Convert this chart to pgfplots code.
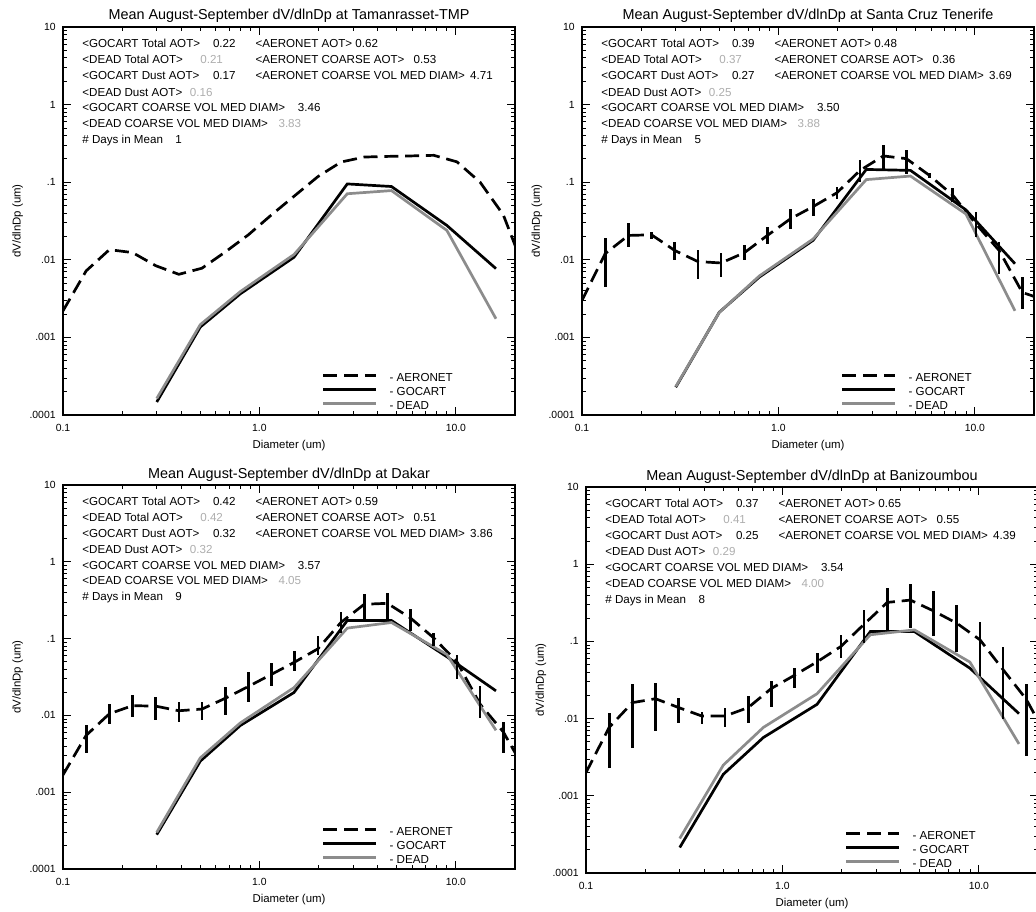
\documentclass[border=0pt]{standalone}
\usepackage{fontspec}
\setmainfont{Liberation Sans}
\usepackage{pgfplots}
\pgfplotsset{compat=1.18}
\usepackage{pgfplotstable}

\definecolor{deadgray}{gray}{0.55}
\definecolor{valgray}{gray}{0.68}

% AERONET retrieval bins (diameter, um): value, low, high
\pgfplotstableread{
d       v        lo       hi
0.1000  0.0022   0.0022   0.0022
0.1312  0.0072   0.0072   0.0072
0.1722  0.0135   0.0135   0.0135
0.2259  0.0124   0.0124   0.0124
0.2964  0.0084   0.0084   0.0084
0.3889  0.0065   0.0065   0.0065
0.5102  0.0078   0.0078   0.0078
0.6695  0.0126   0.0126   0.0126
0.8784  0.021    0.021    0.021
1.1525  0.038    0.038    0.038
1.5122  0.067    0.067    0.067
1.9842  0.118    0.118    0.118
2.6035  0.182    0.182    0.182
3.4161  0.211    0.211    0.211
4.4823  0.215    0.215    0.215
5.8812  0.218    0.218    0.218
7.7168  0.222    0.222    0.222
10.125  0.183    0.183    0.183
13.286  0.100    0.100    0.100
17.432  0.038    0.038    0.038
22.87   0.0064   0.0064   0.0064
}\aerTam

\pgfplotstableread{
d       v        lo       hi
0.1000  0.0030   0.00022  0.0049
0.1312  0.0120   0.0044   0.019
0.1722  0.0206   0.0146   0.030
0.2259  0.0210   0.0187   0.0228
0.2964  0.0132   0.0098   0.0172
0.3889  0.0095   0.0057   0.0132
0.5102  0.0091   0.0060   0.0124
0.6695  0.0123   0.0098   0.0153
0.8784  0.0206   0.0161   0.0264
1.1525  0.0338   0.0246   0.0455
1.5122  0.049    0.037    0.061
1.9842  0.073    0.061    0.087
2.6035  0.142    0.100    0.191
3.4161  0.218    0.138    0.300
4.4823  0.201    0.129    0.258
5.8812  0.122    0.112    0.132
7.7168  0.068    0.055    0.084
10.125  0.029    0.0196   0.041
13.286  0.0132   0.0066   0.0169
17.432  0.0038   0.0023   0.0060
22.87   0.0030   0.0030   0.0030
}\aerSCT

\pgfplotstableread{
d       v        lo       hi
0.1000  0.00168  0.00072  0.00214
0.1312  0.0055   0.0032   0.0074
0.1722  0.0105   0.0078   0.0141
0.2259  0.0134   0.0095   0.0184
0.2964  0.0132   0.0086   0.0175
0.3889  0.0115   0.0082   0.0148
0.5102  0.0121   0.0086   0.0150
0.6695  0.0167   0.0101   0.0231
0.8784  0.0238   0.0148   0.0368
1.1525  0.0343   0.0238   0.0486
1.5122  0.0495   0.038    0.0687
1.9842  0.0736   0.062    0.109
2.6035  0.163    0.118    0.219
3.4161  0.280    0.176    0.381
4.4823  0.288    0.176    0.390
5.8812  0.185    0.124    0.241
7.7168  0.102    0.080    0.118
10.125  0.050    0.0296   0.062
13.286  0.0140   0.0092   0.0243
17.432  0.0061   0.0032   0.0082
22.87   0.0018   0.0018   0.0018
}\aerDak

\pgfplotstableread{
d       v        lo       hi
0.1000  0.0020   0.00096  0.0023
0.1312  0.0077   0.0023   0.0119
0.1722  0.0161   0.0042   0.0277
0.2259  0.0181   0.0069   0.029
0.2964  0.0139   0.0089   0.0186
0.3889  0.0108   0.0086   0.0123
0.5102  0.0108   0.0077   0.0139
0.6695  0.0139   0.0089   0.0196
0.8784  0.0246   0.0141   0.0305
1.1525  0.0365   0.0251   0.0454
1.5122  0.055    0.039    0.071
1.9842  0.086    0.061    0.122
2.6035  0.167    0.095    0.256
3.4161  0.320    0.141    0.486
4.4823  0.343    0.149    0.547
5.8812  0.248    0.119    0.449
7.7168  0.172    0.074    0.296
10.125  0.105    0.0354   0.177
13.286  0.043    0.0098   0.084
17.432  0.0178   0.0033   0.0277
22.87   0.0050   0.0050   0.0050
}\aerBan

% model bins: GOCART and DEAD
\pgfplotstableread{
d     goc       dead
0.3   0.000147  0.000163
0.5   0.00136   0.00146
0.8   0.00365   0.0039
1.5   0.0108    0.0117
2.8   0.095     0.071
4.7   0.088     0.078
9.0   0.0277    0.0239
16    0.0077    0.00174
}\modTam

\pgfplotstableread{
d     goc       dead
0.3   0.000228  0.000232
0.5   0.00211   0.0021
0.8   0.0060    0.0062
1.5   0.0178    0.0185
2.8   0.146     0.108
4.7   0.142     0.120
9.0   0.044     0.039
16    0.0089    0.0022
}\modSCT

\pgfplotstableread{
d     goc       dead
0.3   0.00028   0.00030
0.5   0.00254   0.0028
0.8   0.0074    0.0080
1.5   0.0199    0.023
2.8   0.172     0.137
4.7   0.172     0.162
9.0   0.058     0.062
16    0.0209    0.0064
}\modDak

\pgfplotstableread{
d     goc       dead
0.3   0.000214  0.00028
0.5   0.0019    0.0025
0.8   0.0057    0.0077
1.5   0.0153    0.021
2.8   0.134     0.122
4.7   0.134     0.141
9.0   0.045     0.054
16    0.0116    0.0047
}\modBan

\pgfplotsset{every axis/.append style={
    scale only axis, width=226pt, height=194pt,
    xmin=0.1, xmax=20, ymin=1e-4, ymax=10,
    xtick={0.1,1,10}, xticklabels={0.1,1.0,10.0},
    ytick={1e-4,1e-3,1e-2,1e-1,1,10},
    yticklabels={.0001,.001,.01,.1,1,10},
    minor xtick={0.2,0.3,0.4,0.5,0.6,0.7,0.8,0.9,2,3,4,5,6,7,8,9,20},
    minor ytick={2e-4,3e-4,4e-4,5e-4,6e-4,7e-4,8e-4,9e-4,
                 2e-3,3e-3,4e-3,5e-3,6e-3,7e-3,8e-3,9e-3,
                 0.02,0.03,0.04,0.05,0.06,0.07,0.08,0.09,
                 0.2,0.3,0.4,0.5,0.6,0.7,0.8,0.9,2,3,4,5,6,7,8,9},
    tick align=inside, major tick length=4pt, minor tick length=2pt,
    tick style={black, line width=0.4pt},
    axis line style={line width=0.6pt},
    ticklabel style={font=\fontsize{5.2}{6}\selectfont},
    xticklabel style={anchor=base, yshift=-8.3pt},
    yticklabel style={anchor=east, inner sep=0pt, xshift=-3.5pt},
    xlabel={Diameter (um)}, ylabel={dV/dlnDp (um)},
    label style={font=\fontsize{5.7}{6.5}\selectfont},
    xlabel style={at={(axis description cs:0.5,0)}, anchor=base, yshift=-16.5pt},
    ylabel style={at={(axis description cs:-0.1,0.5)}, anchor=center},
    every axis title shift=0pt,
    title style={font=\fontsize{7.2}{8}\selectfont, at={(axis description cs:0.5,1)}, anchor=base, yshift=3.5pt},
    legend cell align=left,
    legend style={draw=none, fill=none, at={(axis description cs:0.572,0.008)},
      anchor=south west, inner sep=0pt, row sep=2pt, column sep=6pt,
      font=\fontsize{5.8}{6}\selectfont,
      nodes={inner sep=0pt, text height=4.1pt, text depth=0.9pt}},
  }}
\pgfplotsset{legend image code/.code={\draw[#1] (0pt,1.5pt) -- (26.5pt,1.5pt);}}
\tikzset{
  aer/.style={black, line width=1.35pt, dash pattern=on 7pt off 3.4pt},
  goc/.style={black, line width=1.35pt},
  dead/.style={deadgray, line width=1.35pt},
  info/.style={anchor=base west, inner sep=0pt, font=\fontsize{5.8}{7}\selectfont},
}

% statistics printed in the upper left of each panel
\newcommand{\modlines}[7]{%
  \node[info] at (rel axis cs:0.042,0.946) {<GOCART Total AOT>};
  \node[info] at (rel axis cs:0.331,0.946) {#1};
  \node[info] at (rel axis cs:0.042,0.905) {<DEAD Total AOT>};
  \node[info, valgray] at (rel axis cs:0.303,0.905) {#2};
  \node[info] at (rel axis cs:0.042,0.864) {<GOCART Dust AOT>};
  \node[info] at (rel axis cs:0.331,0.864) {#3};
  \node[info] at (rel axis cs:0.042,0.822) {<DEAD Dust AOT>};
  \node[info, valgray] at (rel axis cs:0.280,0.822) {#4};
  \node[info] at (rel axis cs:0.042,0.781) {<GOCART COARSE VOL MED DIAM>};
  \node[info] at (rel axis cs:0.519,0.781) {#5};
  \node[info] at (rel axis cs:0.042,0.740) {<DEAD COARSE VOL MED DIAM>};
  \node[info, valgray] at (rel axis cs:0.476,0.740) {#6};
  \node[info] at (rel axis cs:0.042,0.699) {\# Days in Mean};
  \node[info] at (rel axis cs:0.248,0.699) {#7};
}
\newcommand{\aerlines}[3]{%
  \node[info] at (rel axis cs:0.425,0.946) {<AERONET AOT>};
  \node[info] at (rel axis cs:0.646,0.946) {#1};
  \node[info] at (rel axis cs:0.425,0.905) {<AERONET COARSE AOT>};
  \node[info] at (rel axis cs:0.775,0.905) {#2};
  \node[info] at (rel axis cs:0.425,0.864) {<AERONET COARSE VOL MED DIAM>};
  \node[info] at (rel axis cs:0.900,0.864) {#3};
}

\begin{document}
\begin{tikzpicture}
\useasboundingbox (0,0) rectangle (518pt,455.5pt);

% Tamanrasset
\begin{loglogaxis}[at={(31.5pt,248pt)}, anchor=south west,
  title={Mean August-September dV/dlnDp at Tamanrasset-TMP}]
\addplot[aer] table[x=d, y=v] {\aerTam};
\addplot[goc] table[x=d, y=goc] {\modTam};
\addplot[dead] table[x=d, y=dead] {\modTam};
\legend{- AERONET, - GOCART, - DEAD}
\modlines{0.22}{0.21}{0.17}{0.16}{3.46}{3.83}{1}
\aerlines{0.62}{0.53}{4.71}
\end{loglogaxis}

% Santa Cruz Tenerife
\begin{loglogaxis}[at={(291pt,248pt)}, anchor=south west,
  title={Mean August-September dV/dlnDp at Santa Cruz Tenerife}]
\addplot[aer] table[x=d, y=v] {\aerSCT};
\addplot[goc] table[x=d, y=goc] {\modSCT};
\addplot[dead] table[x=d, y=dead] {\modSCT};
\addplot[forget plot, draw=none, mark=none,
  error bars/.cd, y dir=both, y explicit, error mark=none,
  error bar style={draw=black, line width=1.35pt, solid}]
  table[x=d, y=v, y error plus expr=\thisrow{hi}-\thisrow{v},
  y error minus expr=\thisrow{v}-\thisrow{lo}] {\aerSCT};
\legend{- AERONET, - GOCART, - DEAD}
\modlines{0.39}{0.37}{0.27}{0.25}{3.50}{3.88}{5}
\aerlines{0.48}{0.36}{3.69}
\end{loglogaxis}

% Dakar
\begin{loglogaxis}[height=192pt, at={(31.5pt,21pt)}, anchor=south west,
  title={Mean August-September dV/dlnDp at Dakar}]
\addplot[aer] table[x=d, y=v] {\aerDak};
\addplot[goc] table[x=d, y=goc] {\modDak};
\addplot[dead] table[x=d, y=dead] {\modDak};
\addplot[forget plot, draw=none, mark=none,
  error bars/.cd, y dir=both, y explicit, error mark=none,
  error bar style={draw=black, line width=1.35pt, solid}]
  table[x=d, y=v, y error plus expr=\thisrow{hi}-\thisrow{v},
  y error minus expr=\thisrow{v}-\thisrow{lo}] {\aerDak};
\legend{- AERONET, - GOCART, - DEAD}
\modlines{0.42}{0.42}{0.32}{0.32}{3.57}{4.05}{9}
\aerlines{0.59}{0.51}{3.86}
\end{loglogaxis}

% Banizoumbou
\begin{loglogaxis}[height=193pt, at={(293pt,19pt)}, anchor=south west,
  title={Mean August-September dV/dlnDp at Banizoumbou}]
\addplot[aer] table[x=d, y=v] {\aerBan};
\addplot[goc] table[x=d, y=goc] {\modBan};
\addplot[dead] table[x=d, y=dead] {\modBan};
\addplot[forget plot, draw=none, mark=none,
  error bars/.cd, y dir=both, y explicit, error mark=none,
  error bar style={draw=black, line width=1.35pt, solid}]
  table[x=d, y=v, y error plus expr=\thisrow{hi}-\thisrow{v},
  y error minus expr=\thisrow{v}-\thisrow{lo}] {\aerBan};
\legend{- AERONET, - GOCART, - DEAD}
\modlines{0.37}{0.41}{0.25}{0.29}{3.54}{4.00}{8}
\aerlines{0.65}{0.55}{4.39}
\end{loglogaxis}
\end{tikzpicture}
\end{document}
